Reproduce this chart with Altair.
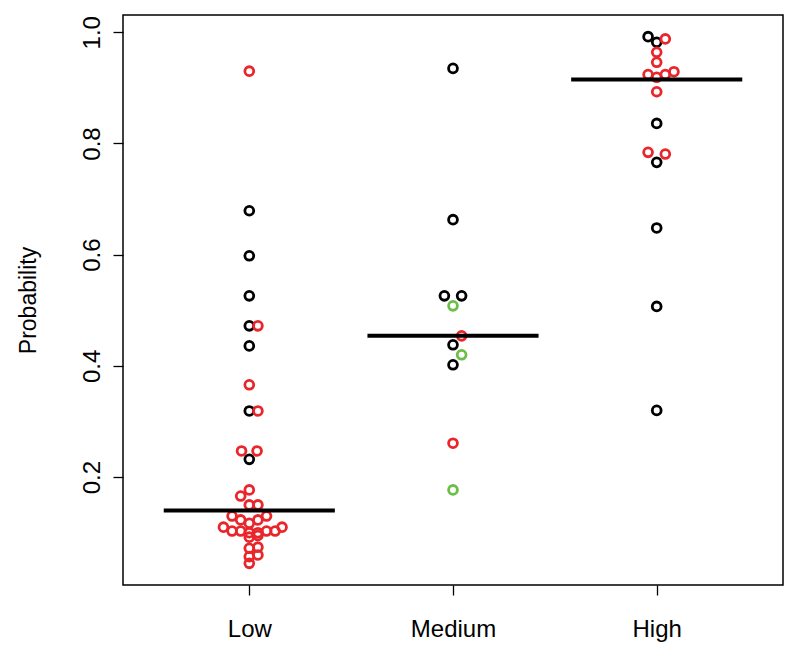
import altair as alt
import pandas as pd

categories = ["Low", "Medium", "High"]

# Low
low_values = [0.679, 0.598, 0.526, 0.472, 0.436, 0.319, 0.232,
              0.930, 0.472, 0.366, 0.319, 0.247, 0.247,
              0.177, 0.166, 0.150, 0.150,
              0.130, 0.130, 0.123, 0.123, 0.117,
              0.110, 0.103, 0.103, 0.100, 0.100, 0.103, 0.103, 0.110,
              0.092, 0.095, 0.072, 0.074, 0.057, 0.060, 0.045]
low_groups = ["black"] * 7 + ["red"] * 30
low_slots = [0, 0, 0, 0, 0, 0, 0,
             0, 1, 0, 1, -0.9, 0.9,
             0, -1, 0, 1,
             -2, 2, -1, 1, 0,
             -3, -2, -1, 0, 1, 2, 3, 3.8,
             0, 1, 0, 1, 0, 1, 0]

# Medium
med_values = [0.935, 0.663, 0.526, 0.526, 0.438, 0.402,
              0.508, 0.420, 0.177,
              0.454, 0.261]
med_groups = ["black"] * 6 + ["green"] * 3 + ["red"] * 2
med_slots = [0, 0, -1, 1, 0, 0,
             0, 1, 0,
             1, 0]

# High
high_values = [0.992, 0.982, 0.836, 0.766, 0.648, 0.507, 0.320,
               0.988, 0.964, 0.946, 0.929, 0.924, 0.919, 0.924, 0.893, 0.784, 0.781]
high_groups = ["black"] * 7 + ["red"] * 10
high_slots = [-1, 0, 0, 0, 0, 0, 0,
              1, 0, 0, 2, -1, 0, 1, 0, -1, 1]

medians = [0.140, 0.454, 0.915]

rows = []
for i, (vals, grps, slots) in enumerate([(low_values, low_groups, low_slots),
                                          (med_values, med_groups, med_slots),
                                          (high_values, high_groups, high_slots)]):
    for v, g, s in zip(vals, grps, slots):
        rows.append({"cat": i + 1, "value": v, "group": g, "slot": s})
points = pd.DataFrame(rows)
med_df = pd.DataFrame({"cat": [1, 2, 3], "median": medians})

FONT = "Liberation Sans"
xscale = alt.Scale(domain=[0.38, 3.62], nice=False, zero=False)
yscale = alt.Scale(domain=[0.006, 1.031], nice=False, zero=False)

label_expr = "datum.value == 1 ? 'Low' : datum.value == 2 ? 'Medium' : 'High'"

pts = alt.Chart(points).transform_calculate(
    xpos="datum.cat + datum.slot * 0.0423"
).mark_point(shape="circle", filled=False, size=78, strokeWidth=2.8, opacity=1).encode(
    x=alt.X("xpos:Q", scale=xscale,
            axis=alt.Axis(values=[1, 2, 3], labelExpr=label_expr, title=None,
                          domain=False, grid=False, tickColor="black", tickSize=10,
                          tickWidth=1.3, labelFontSize=24, labelFont=FONT,
                          labelColor="black", labelPadding=22)),
    y=alt.Y("value:Q", scale=yscale,
            axis=alt.Axis(values=[0.2, 0.4, 0.6, 0.8, 1.0], format=".1f",
                          title="Probability", titleFont=FONT, titleFontSize=23,
                          titleFontWeight="normal", titleColor="black", titlePadding=40,
                          domain=False, grid=False, tickColor="black", tickSize=10,
                          tickWidth=1.3, labelFontSize=24, labelFont=FONT,
                          labelColor="black", labelAngle=270, labelAlign="center",
                          labelBaseline="bottom", labelPadding=9)),
    color=alt.Color("group:N",
                    scale=alt.Scale(domain=["black", "red", "green"],
                                    range=["#000000", "#e8262b", "#6cbf46"]),
                    legend=None),
)

lines = alt.Chart(med_df).transform_calculate(
    x1="datum.cat - 0.42", x2="datum.cat + 0.42"
).mark_rule(color="black", strokeWidth=4).encode(
    x=alt.X("x1:Q", scale=xscale),
    x2="x2:Q",
    y=alt.Y("median:Q", scale=yscale),
)

chart = alt.layer(pts, lines).properties(
    width=660, height=570,
    autosize=alt.AutoSizeParams(type="none"),
    padding={"left": 115, "top": 7, "right": 9, "bottom": 60},
    background="white",
).configure_view(stroke="black", strokeWidth=1.5)

chart.save("out.html", embed_options={"renderer": "svg", "actions": False})
